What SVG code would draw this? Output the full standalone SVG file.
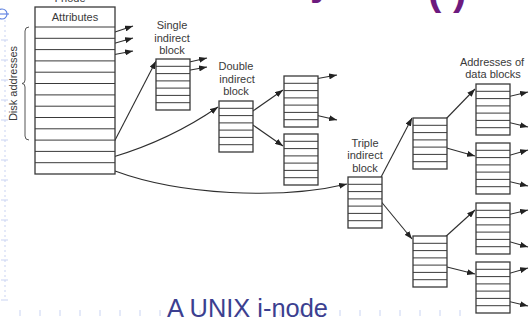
<svg xmlns="http://www.w3.org/2000/svg" xmlns:xlink="http://www.w3.org/1999/xlink" width="529" height="320" viewBox="0 0 529 320">
<style>
.box{fill:#fff;stroke:#3a3a3a;stroke-width:1.3}
.row{stroke:#3a3a3a;stroke-width:1}
.lbl{font-family:"Liberation Sans",Arial,sans-serif;font-size:11px;fill:#3a3a3a;text-anchor:middle}
.con{fill:none;stroke:#2e2e2e;stroke-width:1.1}
.arr{marker-end:url(#ah)}
.grid{stroke:#c9d3f2;stroke-width:1}
.ttl{font-family:"Liberation Sans",Arial,sans-serif;font-weight:bold;font-size:40px;fill:#6d1a7e}
</style>
<defs>
<marker id="ah" markerUnits="userSpaceOnUse" markerWidth="8" markerHeight="6" refX="8" refY="3" orient="auto">
<path d="M0,0 L8,3 L0,6 z" fill="#222"/>
</marker>
<g id="blk">
<rect class="box" x="0" y="0" width="34" height="51"/>
<path class="row" d="M0,7.3H34M0,14.6H34M0,21.9H34M0,29.1H34M0,36.4H34M0,43.7H34"/>
</g>
</defs>
<rect width="529" height="320" fill="#fff"/>
<g id="slide-marks">
<line class="grid" x1="5" y1="20" x2="5" y2="300" stroke-dasharray="2,3"/>
<path class="grid" d="M1,40H8M1,60H8M1,80H8M1,100H8M1,120H8M1,140H8M1,160H8M1,180H8M1,200H8M1,220H8M1,240H8M1,260H8M1,280H8M1,300H8"/>
<path class="grid" d="M20,310V316M40,310V316M60,310V316M80,310V316M100,310V316M120,310V316M140,310V316M160,310V316M180,310V316M200,310V316M220,310V316M240,310V316M260,310V316M280,310V316M300,310V316M320,310V316M340,310V316M360,310V316M380,310V316M400,310V316M420,310V316M440,310V316M460,310V316"/>
<circle cx="2" cy="14" r="5" fill="none" stroke="#5b7fe0" stroke-width="1.1"/>
<line x1="0" y1="14" x2="9" y2="14" stroke="#5b7fe0" stroke-width="1.1"/>
<text class="ttl" x="310" y="-5">y</text>
<text class="ttl" x="428" y="5" font-weight="normal">(</text>
<text class="ttl" x="453" y="5" font-weight="normal">)</text>
</g>
<g id="connectors">
<line class="con arr" x1="112" y1="33" x2="133" y2="26"/>
<line class="con arr" x1="112" y1="44" x2="133" y2="38"/>
<line class="con arr" x1="112" y1="55" x2="133" y2="51"/>
<line class="con arr" x1="112" y1="146" x2="156" y2="61"/>
<path class="con arr" d="M113,157 Q170,140 218,107"/>
<path class="con arr" d="M115,171 C180,195 280,200 347,184"/>
<line class="con arr" x1="185" y1="63" x2="207" y2="58"/>
<line class="con arr" x1="185" y1="71" x2="207" y2="67"/>
<line class="con arr" x1="250" y1="113" x2="283" y2="90"/>
<line class="con arr" x1="250" y1="123" x2="283" y2="146"/>
<line class="con arr" x1="315" y1="79" x2="337" y2="75"/>
<line class="con arr" x1="315" y1="115" x2="337" y2="120"/>
<line class="con arr" x1="379" y1="181" x2="412" y2="118"/>
<line class="con arr" x1="379" y1="199" x2="412" y2="239"/>
<line class="con arr" x1="443" y1="122" x2="475" y2="89"/>
<line class="con arr" x1="443" y1="147" x2="475" y2="156"/>
<line class="con arr" x1="443" y1="239" x2="475" y2="210"/>
<line class="con arr" x1="443" y1="266" x2="475" y2="274"/>
<line class="con arr" x1="507" y1="97" x2="528" y2="92"/>
<line class="con arr" x1="507" y1="122" x2="528" y2="127"/>
<line class="con arr" x1="507" y1="156" x2="528" y2="150"/>
<line class="con arr" x1="507" y1="181" x2="528" y2="186"/>
<line class="con arr" x1="507" y1="215" x2="528" y2="210"/>
<line class="con arr" x1="507" y1="241" x2="528" y2="247"/>
<line class="con arr" x1="507" y1="274" x2="528" y2="268"/>
<line class="con arr" x1="507" y1="301" x2="528" y2="306"/>
</g>
<g id="inode">
<text class="lbl" x="70" y="2">I-node</text>
<rect class="box" x="35" y="7" width="80" height="167"/>
<line class="row" x1="35" y1="27" x2="115" y2="27"/>
<path class="row" d="M35,38.3H115M35,49.6H115M35,60.9H115M35,72.2H115M35,83.5H115M35,94.9H115M35,106.2H115M35,117.5H115M35,128.8H115M35,140.1H115M35,151.4H115M35,162.7H115"/>
<text class="lbl" x="75" y="21">Attributes</text>
<path d="M29,27 Q25,27 25,31 L25,80 Q25,83.5 22,83.5 Q25,83.5 25,87 L25,136 Q25,140 29,140" fill="none" stroke="#555" stroke-width="1"/>
<text class="lbl" transform="translate(17,83.5) rotate(-90)" x="0" y="0">Disk addresses</text>
</g>
<g id="single-indirect">
<use xlink:href="#blk" x="156" y="59"/>
<text class="lbl" x="172" y="29">Single</text>
<text class="lbl" x="172" y="42">indirect</text>
<text class="lbl" x="172" y="54">block</text>
</g>
<g id="double-indirect">
<use xlink:href="#blk" x="219" y="101"/>
<text class="lbl" x="236" y="70">Double</text>
<text class="lbl" x="237" y="83">indirect</text>
<text class="lbl" x="236" y="95">block</text>
</g>
<g id="double-a"><use xlink:href="#blk" x="284" y="76"/></g>
<g id="double-b"><use xlink:href="#blk" x="284" y="134"/></g>
<g id="triple-indirect">
<use xlink:href="#blk" x="348" y="177"/>
<text class="lbl" x="365" y="147">Triple</text>
<text class="lbl" x="365" y="159">indirect</text>
<text class="lbl" x="365" y="172">block</text>
</g>
<g id="triple-c"><use xlink:href="#blk" x="413" y="118"/></g>
<g id="triple-d"><use xlink:href="#blk" x="413" y="236"/></g>
<g id="data-e">
<use xlink:href="#blk" x="476" y="84"/>
<text class="lbl" x="492" y="66">Addresses of</text>
<text class="lbl" x="493" y="78">data blocks</text>
</g>
<g id="data-f"><use xlink:href="#blk" x="476" y="143"/></g>
<g id="data-g"><use xlink:href="#blk" x="476" y="203"/></g>
<g id="data-h"><use xlink:href="#blk" x="476" y="262"/></g>
<text x="167" y="316.5" font-family="Liberation Sans, Arial, sans-serif" font-size="25" fill="#3c3f90" textLength="161" lengthAdjust="spacingAndGlyphs">A UNIX i-node</text>
</svg>
